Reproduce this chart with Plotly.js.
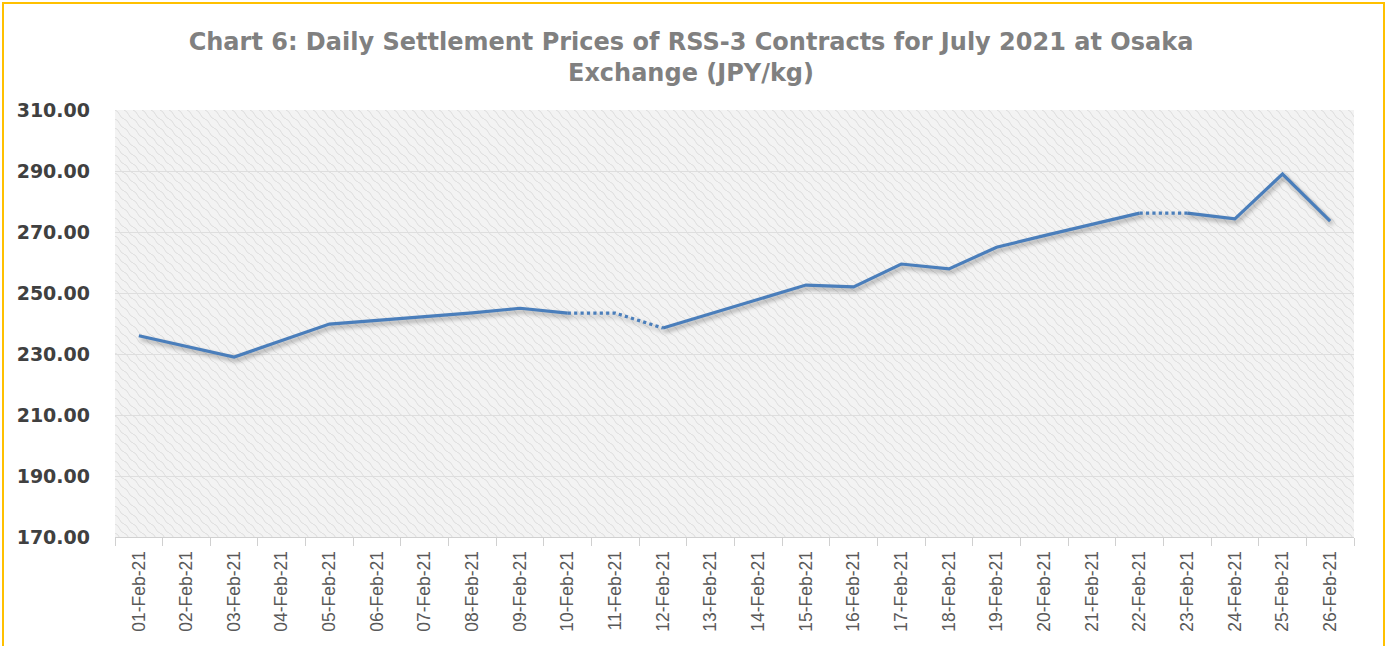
<!DOCTYPE html>
<html>
<head>
<meta charset="utf-8">
<script src="https://cdn.plot.ly/plotly-3.0.1.min.js"></script>
<style>
html,body{margin:0;padding:0;background:#fff;}
#frame{position:absolute;left:2px;top:2px;width:1383px;height:660px;border-top:2px solid #ffc000;border-left:2px solid #ffc000;border-right:2px solid #ffc000;box-sizing:border-box;pointer-events:none;z-index:10;}
#chart{width:1388px;height:646px;}
#chart .scatterlayer .trace path.js-line{filter:drop-shadow(2px 3px 2px rgba(0,0,0,0.35));}
</style>
</head>
<body>
<div id="frame"></div>
<div id="chart"></div>
<script>
const dates = ["01-Feb-21","02-Feb-21","03-Feb-21","04-Feb-21","05-Feb-21","06-Feb-21","07-Feb-21","08-Feb-21","09-Feb-21","10-Feb-21","11-Feb-21","12-Feb-21","13-Feb-21","14-Feb-21","15-Feb-21","16-Feb-21","17-Feb-21","18-Feb-21","19-Feb-21","20-Feb-21","21-Feb-21","22-Feb-21","23-Feb-21","24-Feb-21","25-Feb-21","26-Feb-21"];
const prices = [236.0,232.5,229.0,234.4,239.8,241.0,242.2,243.5,245.0,243.4,243.4,238.5,243.2,247.9,252.6,252.0,259.5,257.9,265.0,268.8,272.5,276.2,276.2,274.3,289.0,273.6];
// segments (starting at these dates, to the next date) drawn dotted
const dottedStarts = ["10-Feb-21","11-Feb-21","22-Feb-21"];
const yTicks = [170,190,210,230,250,270,290,310];
const yTickText = ["170.00","190.00","210.00","230.00","250.00","270.00","290.00","310.00"];

function buildSegments(wantDotted){
  const xs = [], ys = [];
  for (let i = 0; i < dates.length - 1; i++) {
    const dotted = dottedStarts.includes(dates[i]);
    if (dotted !== wantDotted) continue;
    const lastX = xs.length ? xs[xs.length-1] : null;
    if (lastX !== dates[i]) {
      if (xs.length) { xs.push(dates[i]); ys.push(null); }
      xs.push(dates[i]); ys.push(prices[i]);
    }
    xs.push(dates[i+1]); ys.push(prices[i+1]);
  }
  return {xs, ys};
}
const solid = buildSegments(false);
const dot = buildSegments(true);

const lineColor = "#4a7ebb";
const traces = [
  {x: solid.xs, y: solid.ys, type: "scatter", mode: "lines", connectgaps: false,
   line: {color: lineColor, width: 3.2}, hoverinfo: "x+y"},
  {x: dot.xs, y: dot.ys, type: "scatter", mode: "lines", connectgaps: false,
   line: {color: lineColor, width: 3.2, dash: "dot"}, hoverinfo: "x+y"}
];

const patternSvg =
  '<svg xmlns="http://www.w3.org/2000/svg" width="1239" height="427">' +
  '<defs><pattern id="p" width="9" height="9" patternUnits="userSpaceOnUse">' +
  '<rect width="9" height="9" fill="#f3f3f3"/>' +
  '<path d="M0 0 Q3 1 4.5 4.5 T9 9" fill="none" stroke="#dcdcdc" stroke-width="1"/>' +
  '</pattern></defs><rect width="1239" height="427" fill="url(#p)"/></svg>';

const layout = {
  width: 1388, height: 646,
  margin: {l: 115, r: 34, t: 110, b: 109},
  paper_bgcolor: "#ffffff",
  plot_bgcolor: "#efefef",
  showlegend: false,
  title: {
    text: "Chart 6: Daily Settlement Prices of RSS-3 Contracts for July 2021 at Osaka<br>Exchange (JPY/kg)",
    font: {family: "DejaVu Sans, sans-serif", size: 24, color: "#808080", weight: "bold"},
    x: 691/1388, xanchor: "center", xref: "container",
    yref: "container", y: 1 - 50/646, yanchor: "top"
  },
  images: [{
    source: "data:image/svg+xml;charset=utf-8," + encodeURIComponent(patternSvg),
    xref: "paper", yref: "paper", x: 0, y: 1, sizex: 1, sizey: 1,
    xanchor: "left", yanchor: "top", sizing: "stretch", layer: "below"
  }],
  xaxis: {
    type: "category",
    categoryorder: "array", categoryarray: dates,
    range: [-0.5, dates.length - 0.5],
    tickangle: -90,
    tickfont: {family: "Liberation Sans, Arial, sans-serif", size: 17.5, color: "#595959"},
    showgrid: false,
    showline: true, linecolor: "#d0d0d0", linewidth: 1,
    ticks: "outside", tickson: "boundaries", ticklen: 8, tickcolor: "#d0d0d0",
    ticklabelstandoff: 6,
    fixedrange: true
  },
  yaxis: {
    range: [170, 310],
    tickvals: yTicks,
    ticktext: yTickText,
    tickfont: {family: "DejaVu Sans, Verdana, sans-serif", size: 19, color: "#404040", weight: "bold"},
    showgrid: true, gridcolor: "#dedede", gridwidth: 1,
    zeroline: false, showline: false,
    ticks: "", ticklabelstandoff: 24,
    fixedrange: true
  }
};

Plotly.newPlot("chart", traces, layout, {displayModeBar: false, staticPlot: true});
</script>
</body>
</html>
